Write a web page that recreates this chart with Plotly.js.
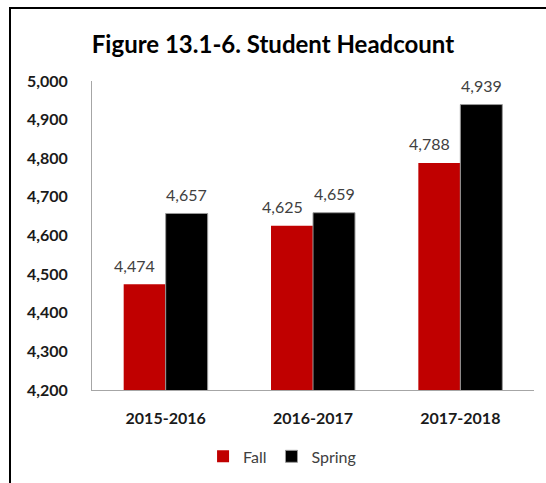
<!DOCTYPE html>
<html>
<head>
<meta charset="utf-8">
<script src="https://cdn.plot.ly/plotly-3.0.1.min.js"></script>
<style>
  html, body { margin: 0; padding: 0; overflow: hidden; background: #fff; }
  #chart { width: 546px; height: 483px; }
  #frame { position: absolute; left: 9px; top: 7px; width: 700px; height: 700px;
           border: 2px solid #000; pointer-events: none; }
</style>
</head>
<body>
<div id="chart"></div>
<div id="frame"></div>
<script>
const categories = ['2015-2016', '2016-2017', '2017-2018'];
const fallValues = [4474, 4625, 4788];
const springValues = [4657, 4659, 4939];
const yTickValues = [4200, 4300, 4400, 4500, 4600, 4700, 4800, 4900, 5000];
const yTickLabels = ['4,200', '4,300', '4,400', '4,500', '4,600', '4,700', '4,800', '4,900', '5,000'];

const FONT = 'Lato, "Open Sans", sans-serif';
const fmt = v => v.toLocaleString('en-US');

const traces = [
  { type: 'bar', name: 'Fall', x: categories, y: fallValues,
    marker: { color: '#c00000' }, hoverinfo: 'x+y' },
  { type: 'bar', name: 'Spring', x: categories, y: springValues,
    marker: { color: '#000000', line: { color: '#9a9a9a', width: 1 } }, hoverinfo: 'x+y' }
];

const annotations = [];
fallValues.forEach((v, i) => annotations.push({
  x: categories[i], y: v, xref: 'x', yref: 'y', text: fmt(v), showarrow: false,
  xshift: -31, yshift: 19, yanchor: 'middle',
  font: { family: FONT, size: 16, color: '#404040' }
}));
springValues.forEach((v, i) => annotations.push({
  x: categories[i], y: v, xref: 'x', yref: 'y', text: fmt(v), showarrow: false,
  xshift: 21, yshift: 19, yanchor: 'middle',
  font: { family: FONT, size: 16, color: '#404040' }
}));

const layout = {
  width: 546, height: 483,
  margin: { l: 92, r: 12, t: 81, b: 93, autoexpand: false },
  paper_bgcolor: '#ffffff', plot_bgcolor: '#ffffff',
  font: { family: FONT, color: '#1a1a1a' },
  title: { text: '<b>Figure 13.1-6. Student Headcount</b>',
           font: { family: FONT, size: 24, color: '#000000' },
           xref: 'container', x: 0.5, xanchor: 'center',
           yref: 'container', y: 1 - 45 / 483, yanchor: 'middle' },
  barmode: 'group', bargap: 0.43, bargroupgap: 0,
  xaxis: { type: 'category', showline: true, linecolor: '#a6a6a6', linewidth: 1,
           showgrid: false, zeroline: false, ticks: '', ticklabelstandoff: 14,
           tickfont: { family: FONT, size: 16, color: '#1a1a1a', weight: 'bold' } },
  yaxis: { range: [4200, 5000], tickvals: yTickValues, ticktext: yTickLabels,
           showline: true, linecolor: '#a6a6a6', linewidth: 1,
           showgrid: false, zeroline: false, ticks: '', ticklabelstandoff: 20,
           tickfont: { family: FONT, size: 16, color: '#1a1a1a', weight: 'bold' } },
  showlegend: true,
  legend: { orientation: 'h', x: 0.43, xanchor: 'center', y: -0.215, yanchor: 'middle',
            itemwidth: 30,
            font: { family: FONT, size: 16, color: '#404040' } },
  annotations: annotations
};

Plotly.newPlot('chart', traces, layout, { displayModeBar: false, staticPlot: true });
</script>
</body>
</html>
